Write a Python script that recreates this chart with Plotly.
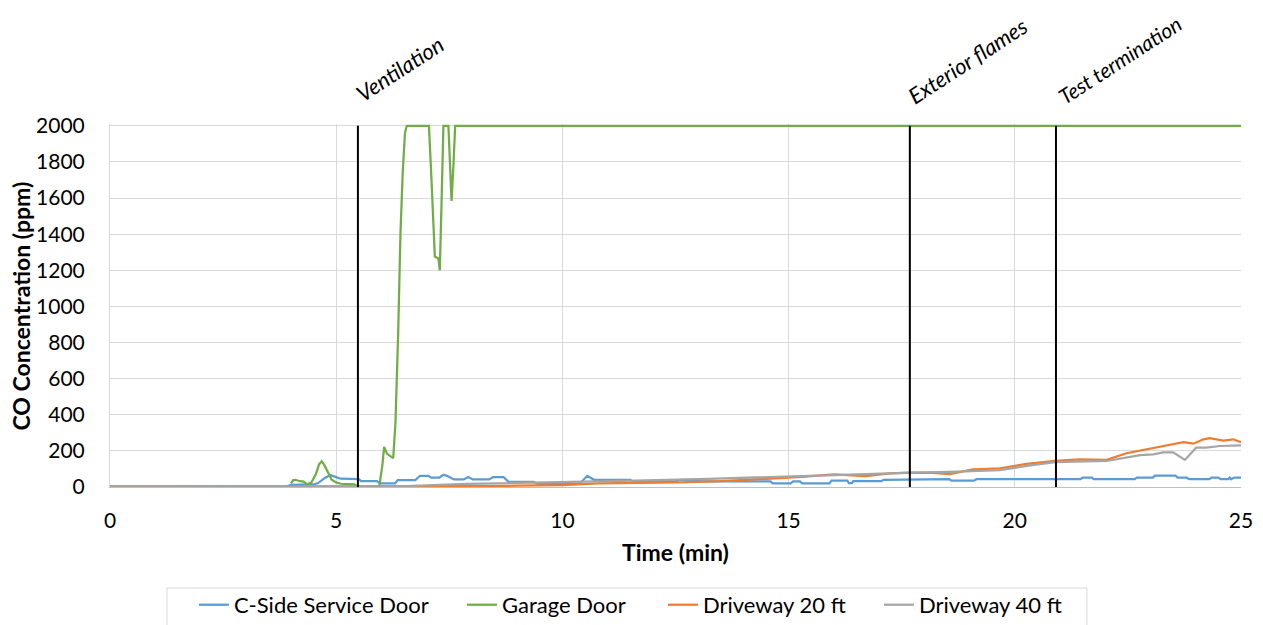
import plotly.graph_objects as go

# ---- data (time in minutes, CO in ppm) ----
blue_t = [0, 3.9, 4.0, 4.5, 4.6, 4.75, 4.87, 5.0, 5.1, 5.5,
          5.55, 5.9, 5.97, 6.3, 6.36, 6.75, 6.85, 7.04, 7.1, 7.28,
          7.37, 7.45, 7.6, 7.82, 7.92, 8.02, 8.38, 8.47, 8.7, 8.8,
          9.36, 9.45, 10.35, 10.42, 10.55, 10.7, 11.5, 11.55, 12.5, 12.6,
          13.0, 13.05, 14.6, 14.65, 15.05, 15.1, 15.25, 15.3, 15.9, 15.95,
          16.3, 16.33, 16.4, 16.43, 17.05, 17.1, 17.95, 18.0, 18.55, 18.6,
          19.1, 19.15, 21.45, 21.5, 21.7, 21.75, 22.65, 22.7, 23.05, 23.1,
          23.55, 23.6, 23.8, 23.85, 24.3, 24.35, 24.5, 24.55, 24.72, 24.75,
          24.78, 24.85, 25.0]
blue_v = [2, 2, 12, 14, 22, 50, 66, 55, 46, 44,
          33, 33, 20, 20, 38, 38, 62, 62, 52, 52,
          68, 62, 42, 42, 55, 42, 42, 55, 55, 30,
          28, 18, 18, 28, 62, 40, 40, 31, 31, 40,
          40, 31, 31, 20, 20, 31, 31, 20, 20, 36,
          36, 22, 22, 32, 32, 40, 40, 44, 44, 35,
          35, 43, 43, 52, 52, 43, 43, 52, 52, 63,
          63, 52, 52, 43, 43, 52, 52, 43, 43, 52,
          43, 52, 52]

green_t = [4.0, 4.05, 4.1, 4.2, 4.28, 4.35, 4.45, 4.55, 4.62, 4.68,
           4.73, 4.8, 4.9, 5.0, 5.1, 5.4, 5.5, 5.95, 6.02, 6.06,
           6.12, 6.26, 6.31, 6.37, 6.42, 6.47, 6.52, 6.56, 7.05, 7.11,
           7.15, 7.18, 7.26, 7.29, 7.33, 7.37, 7.48, 7.52, 7.55, 7.59,
           7.63, 25.0]
green_v = [20, 38, 40, 32, 30, 15, 25, 70, 125, 142,
           125, 90, 40, 25, 18, 15, 0, 0, 120, 222,
           185, 160, 354, 853, 1400, 1740, 1960, 2000, 2000, 1682,
           1405, 1276, 1265, 1200, 1590, 2000, 2000, 1775, 1584, 1775,
           2000, 2000]

orange_t = [0, 2, 4, 5, 6, 7, 8, 9, 10, 10.8,
            11.5, 12.6, 13.5, 14.8, 15.3, 16.0, 16.7, 17.24, 17.68, 18.2,
            18.56, 19.08, 19.67, 20.26, 20.89, 21.44, 22.03, 22.47, 22.84, 23.14,
            23.36, 23.58, 23.73, 23.95, 24.17, 24.31, 24.61, 24.83, 25.0]
orange_v = [3, 3, 3, 2, 2, 3, 5, 7, 10, 20,
            22, 26, 32, 48, 56, 70, 60, 76, 80, 78,
            72, 98, 103, 128, 144, 153, 150, 187, 205, 223,
            233, 242, 249, 240, 264, 271, 257, 264, 248]

gray_t = [0, 3.3, 4, 5, 6, 6.4, 7.9, 10.1, 11.6, 13.05,
          14.8, 16.0, 17.0, 17.76, 18.56, 19.67, 20.3, 20.89, 22.03, 22.33,
          22.77, 23.06, 23.28, 23.5, 23.76, 24.01, 24.23, 24.53, 25.0]
gray_v = [0, 0, 3, 3, 3, 4, 17, 30, 35, 43,
          57, 68, 72, 80, 84, 94, 118, 138, 144, 159,
          177, 181, 192, 192, 150, 218, 218, 227, 231]

series_names = ["C-Side Service Door", "Garage Door", "Driveway 20 ft", "Driveway 40 ft"]
series_colors = ["#5B9BD5", "#70AD47", "#ED7D31", "#A5A5A5"]

event_t = [5.48, 17.68, 20.91]
event_labels = ["Ventilation", "Exterior flames", "Test termination"]

x_ticks = [0, 5, 10, 15, 20, 25]
y_ticks = [0, 200, 400, 600, 800, 1000, 1200, 1400, 1600, 1800, 2000]

FONT = "Lato, 'Open Sans', sans-serif"

fig = go.Figure()
legend_ids = ["legend", "legend2", "legend3", "legend4"]
for (t, v), name, col, lid in zip([(blue_t, blue_v), (green_t, green_v), (orange_t, orange_v), (gray_t, gray_v)],
                                  series_names, series_colors, legend_ids):
    fig.add_trace(go.Scatter(x=t, y=v, mode="lines", name=name, legend=lid,
                             line=dict(color=col, width=2.25)))

for t in event_t:
    fig.add_shape(type="line", xref="x", yref="y", x0=t, x1=t, y0=0, y1=2000,
                  line=dict(color="black", width=2))

# legend frame
fig.add_shape(type="rect", xref="paper", yref="paper", x0=0.0504, x1=0.8638,
              y0=-0.50, y1=-0.2782, line=dict(color="#d9d9d9", width=1),
              fillcolor="rgba(0,0,0,0)", layer="above")

label_dx = [42, 58, 64]
label_y = [1.154, 1.176, 1.177]
for t, lab, dx, yy in zip(event_t, event_labels, label_dx, label_y):
    fig.add_annotation(x=t, y=yy, xref="x", yref="paper", text="<i>" + lab + "</i>",
                       showarrow=False, textangle=-33, xshift=dx,
                       xanchor="center", yanchor="middle",
                       font=dict(family=FONT, size=22 if lab != "Test termination" else 21,
                                 color="black"))

fig.add_annotation(x=0.5, y=-0.179, xref="paper", yref="paper", text="<b>Time (min)</b>",
                   showarrow=False, xanchor="center", yanchor="middle",
                   font=dict(family=FONT, size=23, color="black"))
fig.add_annotation(x=-0.0787, y=0.5, xref="paper", yref="paper",
                   text="<b>CO Concentration (ppm)</b>", showarrow=False, textangle=-90,
                   xanchor="center", yanchor="middle",
                   font=dict(family=FONT, size=23, color="black"))

legend_x = [0.0742, 0.3112, 0.4889, 0.6799]
legend_common = dict(orientation="h", y=-0.267, xanchor="left", yanchor="top",
                     borderwidth=0, bgcolor="rgba(0,0,0,0)",
                     font=dict(family=FONT, size=22, color="black"), itemwidth=30)

fig.update_layout(
    width=1263, height=640,
    margin=dict(l=102, r=30, t=116, b=161),
    paper_bgcolor="white", plot_bgcolor="white",
    font=dict(family=FONT, size=21, color="#262626"),
    showlegend=True,
    legend=dict(x=legend_x[0], **legend_common),
    legend2=dict(x=legend_x[1], **legend_common),
    legend3=dict(x=legend_x[2], **legend_common),
    legend4=dict(x=legend_x[3], **legend_common),
    xaxis=dict(range=[0, 25], tickvals=x_ticks, showgrid=True, gridcolor="#d9d9d9",
               gridwidth=1, zeroline=False, showline=True, linecolor="#bfbfbf",
               ticks="outside", ticklen=15, tickcolor="rgba(0,0,0,0)",
               tickfont=dict(size=21, color="black")),
    yaxis=dict(range=[0, 2010], tickvals=y_ticks, showgrid=True, gridcolor="#d9d9d9",
               gridwidth=1, zeroline=False, showline=True, linecolor="#d9d9d9",
               ticks="outside", ticklen=20, tickcolor="rgba(0,0,0,0)",
               tickfont=dict(size=21, color="black")),
)

fig.write_html("out.html")
